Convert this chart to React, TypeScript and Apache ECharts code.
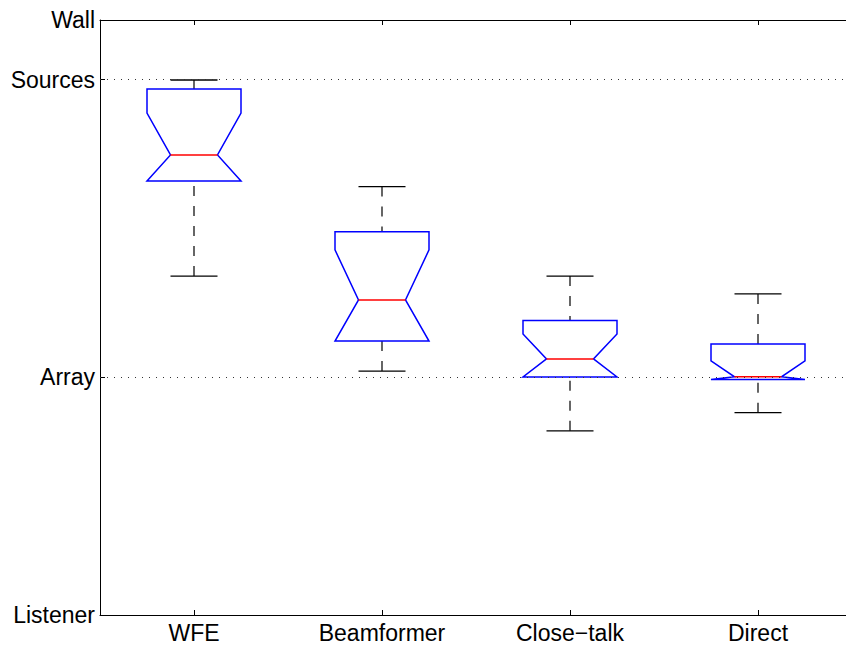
import React, { useEffect, useRef } from "react";
import * as echarts from "echarts";

// Methods compared along the x axis
const categories = ["WFE", "Beamformer", "Close\u2212talk", "Direct"];

// Notched box statistics per method (in position units, Listener = 0)
const whiskerLow = [1.424, 1.025, 0.774, 0.85];
const quartile1 = [1.824, 1.151, 1.0, 0.99];
const notchLow = [1.824, 1.151, 1.0, 0.99];
const median = [1.933, 1.324, 1.076, 1.001];
const notchHigh = [2.109, 1.534, 1.181, 1.068];
const quartile3 = [2.21, 1.61, 1.237, 1.139];
const whiskerHigh = [2.248, 1.8, 1.424, 1.349];

// Named positions on the y axis
const yTickValues = [0, 1, 2.25, 2.5];
const yTickLabels = ["Listener", "Array", "Sources", "Wall"];
const gridLineValues = [1, 2.25];

const FONT = '"Liberation Sans", Arial, Helvetica, sans-serif';

export default function App() {
  const ref = useRef<HTMLDivElement>(null);

  useEffect(() => {
    if (!ref.current) return;
    const chart = echarts.init(ref.current, undefined, { renderer: "svg" });

    const boxData = categories.map((_, i) => [
      i + 1,
      whiskerLow[i],
      quartile1[i],
      notchLow[i],
      median[i],
      notchHigh[i],
      quartile3[i],
      whiskerHigh[i],
    ]);

    const renderItem = (params: any, api: any) => {
      const x = api.value(0);
      const wl = api.value(1);
      const q1 = api.value(2);
      const nl = api.value(3);
      const md = api.value(4);
      const nh = api.value(5);
      const q3 = api.value(6);
      const wh = api.value(7);
      const hw = api.size([0.25, 0])[0];
      const c = (y: number) => api.coord([x, y]);
      const cx = c(md)[0];
      const yq1 = c(q1)[1];
      const ynl = c(nl)[1];
      const ymd = c(md)[1];
      const ynh = c(nh)[1];
      const yq3 = c(q3)[1];
      const ywl = c(wl)[1];
      const ywh = c(wh)[1];

      const dash = { stroke: "#000", lineWidth: 1.2, lineDash: [10, 10], fill: "none" };
      const solid = { stroke: "#000", lineWidth: 1.3, fill: "none" };

      return {
        type: "group",
        children: [
          // dashed whiskers, drawn from each cap toward the box
          { type: "line", shape: { x1: cx, y1: ywh, x2: cx, y2: yq3 }, style: dash },
          { type: "line", shape: { x1: cx, y1: ywl, x2: cx, y2: yq1 }, style: dash },
          // whisker caps
          { type: "line", shape: { x1: cx - hw / 2, y1: ywh, x2: cx + hw / 2, y2: ywh }, style: solid },
          { type: "line", shape: { x1: cx - hw / 2, y1: ywl, x2: cx + hw / 2, y2: ywl }, style: solid },
          // notched box outline
          {
            type: "polygon",
            shape: {
              points: [
                [cx - hw, yq3],
                [cx + hw, yq3],
                [cx + hw, ynh],
                [cx + hw / 2, ymd],
                [cx + hw, ynl],
                [cx + hw, yq1],
                [cx - hw, yq1],
                [cx - hw, ynl],
                [cx - hw / 2, ymd],
                [cx - hw, ynh],
              ],
            },
            style: { stroke: "#0000ff", lineWidth: 1.5, fill: "none" },
          },
          // median
          {
            type: "line",
            shape: { x1: cx - hw / 2, y1: ymd, x2: cx + hw / 2, y2: ymd },
            style: { stroke: "#ff0000", lineWidth: 1.5, fill: "none" },
          },
        ],
      };
    };

    const axisLine = { show: true, lineStyle: { color: "#000", width: 1 } };

    chart.setOption({
      animation: false,
      backgroundColor: "#fff",
      grid: {
        left: 100,
        width: 752,
        top: 20,
        height: 595,
        containLabel: false,
        outerBoundsMode: "none",
      },
      xAxis: [
        {
          type: "value",
          position: "bottom",
          min: 0.5,
          max: 4.5,
          axisLine,
          splitLine: { show: false },
          axisTick: {
            show: true,
            inside: true,
            length: 5,
            customValues: [1, 2, 3, 4],
            lineStyle: { color: "#000" },
          },
          axisLabel: {
            show: true,
            customValues: [1, 2, 3, 4],
            formatter: (v: number) => categories[Math.round(v) - 1] ?? "",
            color: "#000",
            fontFamily: FONT,
            fontSize: 23,
            margin: 6,
          },
        },
        {
          type: "value",
          position: "top",
          min: 0.5,
          max: 4.5,
          axisLine,
          splitLine: { show: false },
          axisTick: {
            show: true,
            inside: true,
            length: 5,
            customValues: [1, 2, 3, 4],
            lineStyle: { color: "#000" },
          },
          axisLabel: { show: false },
        },
      ],
      yAxis: {
        type: "value",
        min: 0,
        max: 2.5,
        axisLine,
        splitLine: { show: false },
        axisTick: {
          show: true,
          inside: true,
          length: 5,
          customValues: yTickValues,
          lineStyle: { color: "#000" },
        },
        axisLabel: {
          show: true,
          customValues: yTickValues,
          formatter: (v: number) => {
            const idx = yTickValues.findIndex((t) => Math.abs(t - v) < 1e-6);
            return idx >= 0 ? yTickLabels[idx] : "";
          },
          color: "#000",
          fontFamily: FONT,
          fontSize: 23,
          margin: 5,
        },
      },
      series: [
        {
          type: "custom",
          xAxisIndex: 0,
          renderItem,
          data: boxData,
          encode: { x: 0, y: [1, 7] },
          clip: false,
          silent: true,
          markLine: {
            silent: true,
            symbol: "none",
            label: { show: false },
            lineStyle: { color: "#333", width: 1, type: [1, 6] },
            data: gridLineValues.map((v) => ({ yAxis: v })),
          },
          z: 2,
        },
      ],
    });

    return () => chart.dispose();
  }, []);

  return (
    <div
      ref={ref}
      style={{ position: "fixed", left: 0, top: 0, width: 846, height: 649, background: "#fff" }}
    />
  );
}
